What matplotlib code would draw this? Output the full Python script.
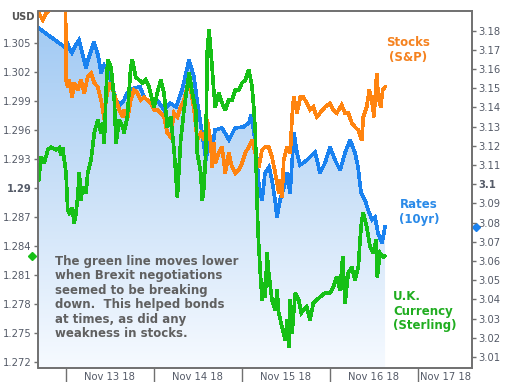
import numpy as np
import matplotlib
matplotlib.use("Agg")
import matplotlib.pyplot as plt
from matplotlib.colors import LinearSegmentedColormap
from matplotlib.path import Path
import matplotlib.transforms as mtransforms

# ---------------- data (x = hours since Nov 12 2018 00:00) ----------------
rates_hours = [16.64, 24.08, 24.35, 24.9, 25.72, 26.8, 27.63, 28.45, 29.54, 30.08, 31.17, 31.72,
               32.81, 33.63, 34.45, 35.54, 36.63, 37.72, 38.81, 39.9, 40.72, 42.63, 44.26, 45.35,
               46.99, 48.9, 50.81, 52.45, 54.08, 55.72, 57.63, 58.99, 59.81, 61.17, 62.26, 63.08,
               63.9, 64.72, 66.63, 68.54, 70.17, 72.36, 73.99, 74.54, 75.36, 76.17, 76.72, 77.54,
               78.35, 79.45, 80.26, 81.08, 81.63, 82.45, 83.54, 84.36, 85.17, 86.26, 87.08, 87.9,
               89.81, 91.99, 93.36, 94.72, 96.08, 97.45, 98.81, 100.17, 101.54, 102.9, 103.72,
               104.54, 105.63, 106.45, 107.54, 108.35, 109.17, 110.26, 111.08]
rates_values = [3.1813, 3.1710, 3.1741, 3.1710, 3.1684, 3.1726, 3.1752, 3.1689, 3.1606, 3.1647, 3.1710, 3.1741,
                3.1673, 3.1580, 3.1621, 3.1595, 3.1517, 3.1439, 3.1413, 3.1439, 3.1475, 3.1501, 3.1507, 3.1455,
                3.1423, 3.1439, 3.1387, 3.1423, 3.1403, 3.1491, 3.1647, 3.1559, 3.1439, 3.1267, 3.1126, 3.1231,
                3.1178, 3.1283, 3.1293, 3.1231, 3.1293, 3.1298, 3.1319, 3.1361, 3.1267, 3.1126, 3.0986, 3.0918,
                3.1059, 3.1090, 3.1022, 3.0918, 3.0829, 3.0918, 3.0986, 3.1059, 3.0954, 3.1267, 3.1163, 3.1100,
                3.1126, 3.1168, 3.1059, 3.1111, 3.1194, 3.1126, 3.1074, 3.1163, 3.1231, 3.1163, 3.1090,
                3.0954, 3.0918, 3.0866, 3.0814, 3.0829, 3.0746, 3.0694, 3.0777]

gbp_hours = [16.64, 17.26, 18.16, 19.09, 19.99, 21.35, 22.25, 22.72, 23.18, 23.62, 24.08, 24.55, 24.98,
             25.72, 26.35, 26.81, 27.27, 27.71, 28.17, 28.64, 29.54, 30.0, 30.9, 31.8, 32.73, 33.63,
             34.09, 34.53, 34.99, 35.45, 36.35, 37.25, 37.72, 38.62, 39.55, 39.9, 40.8, 41.73, 42.16,
             43.09, 43.99, 44.89, 45.82, 46.72, 48.08, 48.98, 49.91, 50.81, 51.71, 52.64, 53.54, 54.0,
             54.44, 55.36, 56.26, 57.63, 58.53, 59.45, 59.89, 60.82, 61.25, 61.72, 62.18, 62.62, 63.08,
             63.71, 64.36, 64.8, 65.73, 66.63, 67.53, 68.45, 69.35, 70.25, 71.18, 72.08, 72.98, 73.91,
             74.34, 74.81, 75.27, 75.71, 76.17, 76.45, 77.07, 77.54, 78.0, 78.44, 78.9, 79.36, 80.26,
             81.16, 81.63, 82.09, 82.99, 83.89, 84.36, 84.82, 85.25, 85.72, 86.62, 87.54, 88.25, 88.8,
             89.73, 90.63, 91.53, 92.45, 93.35, 94.72, 96.08, 96.98, 97.91, 98.81, 99.54, 100.17,
             101.07, 102.0, 102.9, 103.8, 104.26, 104.73, 105.16, 106.09, 106.99, 107.89, 108.63,
             108.98, 109.72, 110.62, 111.08]
gbp_values = [1.29082, 1.29320, 1.29258, 1.29392, 1.29423, 1.29392, 1.29413, 1.29340, 1.29413, 1.29289, 1.29154, 1.28772, 1.28741,
              1.28792, 1.28637, 1.28741, 1.28906, 1.29154, 1.28875, 1.29010, 1.28947, 1.29154, 1.29289, 1.29568, 1.29702, 1.29568,
              1.29671, 1.29464, 1.29981, 1.30323, 1.30250, 1.29909, 1.29464, 1.29702, 1.29630, 1.29568, 1.29733, 1.30250, 1.30323,
              1.30147, 1.30116, 1.30085, 1.30116, 1.30044, 1.29837, 1.29981, 1.30116, 1.29981, 1.29630, 1.29733, 1.29392, 1.29154,
              1.28906, 1.29495, 1.29806, 1.30188, 1.29981, 1.29806, 1.29361, 1.29154, 1.28875, 1.29010, 1.29361, 1.30426, 1.30633,
              1.30354, 1.30012, 1.29837, 1.29981, 1.29878, 1.29806, 1.29909, 1.29909, 1.30012, 1.30012, 1.30085, 1.30116, 1.30219,
              1.30147, 1.30044, 1.29837, 1.29568, 1.28875, 1.28534, 1.28120, 1.27841, 1.28017, 1.27872, 1.28327, 1.28120, 1.27841,
              1.27738, 1.27944, 1.27707, 1.27562, 1.27427, 1.27634, 1.27355, 1.27841, 1.27500, 1.27913, 1.27841, 1.27707, 1.27738,
              1.27769, 1.27634, 1.27810, 1.27841, 1.27872, 1.27913, 1.27913, 1.27976, 1.28079, 1.27944, 1.28286, 1.27810,
              1.28120, 1.28182, 1.28048, 1.28182, 1.28461, 1.28668, 1.28741, 1.28596, 1.28389, 1.28327, 1.28461,
              1.28079, 1.28327, 1.28286, 1.28296]

spx_hours = [16.64, 17.73, 18.63, 19.53, 20.26, 22.45, 23.95, 24.08, 24.55, 24.98, 25.72, 26.35, 27.27,
             28.17, 29.07, 30.0, 30.9, 31.8, 32.73, 33.63, 34.09, 34.53, 34.99, 35.89, 36.82, 37.72,
             38.62, 39.55, 39.9, 40.8, 41.73, 42.63, 43.53, 44.45, 45.35, 46.25, 47.18, 48.08, 48.98,
             49.91, 50.81, 51.71, 52.64, 53.54, 54.44, 55.36, 56.26, 57.16, 58.09, 58.99, 59.89, 60.82,
             61.72, 62.62, 63.54, 63.98, 64.45, 64.8, 65.73, 66.63, 67.53, 68.45, 69.35, 70.25, 71.18,
             72.08, 72.98, 73.91, 74.81, 75.71, 76.64, 77.54, 78.44, 79.36, 80.26, 81.16, 82.09, 82.52,
             82.99, 83.45, 84.36, 85.25, 85.72, 86.18, 87.08, 87.98, 88.8, 89.73, 90.63, 91.53, 92.45,
             93.35, 94.72, 96.08, 96.98, 97.91, 99.27, 100.17, 101.07, 102.0, 102.9, 103.8, 104.73,
             105.16, 106.09, 106.8, 107.45, 108.08, 108.82, 109.25, 109.91, 110.45, 111.08]
spx_values = [2744.3, 2742.0, 2744.3, 2745.3, 2748.7, 2748.7, 2750.3, 2722.0, 2719.7, 2722.0, 2716.3, 2721.0, 2718.7,
              2722.0, 2717.7, 2723.0, 2724.3, 2721.0, 2719.7, 2715.3, 2712.0, 2708.7, 2715.3, 2721.0, 2718.7, 2715.3,
              2712.0, 2709.7, 2712.0, 2708.7, 2715.3, 2718.7, 2717.7, 2715.3, 2716.3, 2715.3, 2714.3, 2712.0, 2712.0,
              2711.0, 2709.7, 2704.3, 2703.0, 2711.0, 2709.7, 2713.0, 2715.3, 2719.7, 2718.7, 2712.0, 2702.0, 2704.3,
              2702.0, 2708.7, 2701.0, 2693.0, 2701.0, 2694.3, 2697.7, 2699.7, 2691.0, 2697.7, 2693.0, 2691.0, 2692.0,
              2694.3, 2697.7, 2699.7, 2702.0, 2697.7, 2693.0, 2698.7, 2699.7, 2699.7, 2696.3, 2691.0, 2684.3, 2688.7,
              2683.0, 2695.3, 2699.7, 2697.7, 2709.7, 2716.3, 2711.0, 2716.3, 2716.3, 2714.3, 2712.0, 2713.0, 2709.7,
              2711.0, 2713.0, 2714.3, 2712.0, 2711.0, 2713.7, 2711.0, 2711.0, 2707.7, 2706.3, 2705.3, 2702.0,
              2709.7, 2713.0, 2718.7, 2715.3, 2709.7, 2724.3, 2716.3, 2713.0, 2718.7, 2719.7]

day_boundaries = [24, 48, 72, 96, 120]
day_label_pos = [36, 60, 84, 108, 120.5]
day_labels = ["Nov 13 18", "Nov 14 18", "Nov 15 18", "Nov 16 18", "Nov 17 18"]

usd_ticks = [1.272, 1.275, 1.278, 1.281, 1.284, 1.287, 1.29, 1.293, 1.296, 1.299, 1.302, 1.305]
usd_labels = ["1.272", "1.275", "1.278", "1.281", "1.284", "1.287", "1.29", "1.293", "1.296", "1.299", "1.302", "1.305"]
rate_ticks = [3.01, 3.02, 3.03, 3.04, 3.05, 3.06, 3.07, 3.08, 3.09, 3.1,
              3.11, 3.12, 3.13, 3.14, 3.15, 3.16, 3.17, 3.18]
rate_labels = ["3.01", "3.02", "3.03", "3.04", "3.05", "3.06", "3.07", "3.08", "3.09", "3.1",
               "3.11", "3.12", "3.13", "3.14", "3.15", "3.16", "3.17", "3.18"]

BLUE = "#1a82f0"
GREEN = "#16c016"
ORANGE = "#ff8410"
TICKC = "#555b68"
SPINEC = "#707070"

# ---------------- figure ----------------
W, H = 510, 382
fig = plt.figure(figsize=(W / 100, H / 100), dpi=100)
ax = fig.add_axes([38.5 / W, 14 / H, (472 - 38.5) / W, (368 - 11) / H])
ax2 = ax.twinx()
ax3 = ax.twinx()
ax3.set_visible(False)

# gradient fill under the rates line
cmap = LinearSegmentedColormap.from_list("fillgrad", ["#f6faff", "#cbe1f8", "#9ec8f3"])
grad = np.linspace(1, 0, 256).reshape(-1, 1)
im = ax.imshow(grad, cmap=cmap, extent=[0, 1, 0, 1], transform=ax.transAxes,
               aspect="auto", origin="upper", zorder=0, interpolation="bilinear")
verts = np.column_stack([[rates_hours[0]] + rates_hours + [rates_hours[-1], rates_hours[0]],
                         [2.9] + rates_values + [2.9, 2.9]])
im.set_clip_path(Path(verts), ax2.transData)

ax.plot(rates_hours, rates_values, color=BLUE, lw=1.9, transform=ax2.transData, zorder=3,
        solid_joinstyle="miter", antialiased=False)
ax.plot(spx_hours, spx_values, color=ORANGE, lw=1.9, transform=ax3.transData, zorder=4,
        solid_joinstyle="miter", antialiased=False)
ax.plot(gbp_hours, gbp_values, color=GREEN, lw=1.9, zorder=5, solid_joinstyle="miter",
        antialiased=False)

# end-value markers on the axes
ax.plot([-0.0143], [gbp_values[-1]], marker="D", ms=4.5, color=GREEN, clip_on=False,
        transform=mtransforms.blended_transform_factory(ax.transAxes, ax.transData), zorder=6)
ax.plot([1.0092], [rates_values[-1]], marker="D", ms=4.5, color=BLUE, clip_on=False,
        transform=mtransforms.blended_transform_factory(ax.transAxes, ax2.transData), zorder=6)

# limits
ax.set_xlim(16.58, 134.8)
ax.set_ylim(1.27138, 1.30829)
ax2.set_ylim(3.00427, 3.19027)
ax3.set_ylim(2626, 2745)

# ticks
ax.set_yticks(usd_ticks, labels=usd_labels)
ax2.set_yticks(rate_ticks, labels=rate_labels)
ax.tick_params(axis="y", length=3, width=1, pad=2, labelsize=7.2, color=SPINEC, labelcolor=TICKC)
ax2.tick_params(axis="y", length=3, width=1, pad=1.5, labelsize=7.2, color=SPINEC, labelcolor=TICKC)
for lab in ax.get_yticklabels():
    if lab.get_text() == "1.29":
        lab.set_fontweight("bold")
for lab in ax2.get_yticklabels():
    if lab.get_text() == "3.1":
        lab.set_fontweight("bold")

ax.set_xticks(day_boundaries, labels=[""] * len(day_boundaries))
ax.set_xticks(day_label_pos, labels=day_labels, minor=True)
ax.tick_params(axis="x", which="major", length=10, width=1, color=SPINEC)
ax.tick_params(axis="x", which="minor", length=0, pad=3, labelsize=7.2, labelcolor=TICKC)
ax.get_xticklabels(minor=True)[-1].set_horizontalalignment("left")

for a in (ax, ax2):
    for s in a.spines.values():
        s.set_color(SPINEC)
        s.set_linewidth(1.2)

# texts
def px(x, y):
    return x / W, 1 - y / H

fig.text(*px(23, 17), "USD", ha="center", va="center", fontsize=7.2, fontweight="bold", color="#555555")
fig.text(*px(408, 50), "Stocks\n(S&P)", ha="center", va="center", fontsize=8.5, fontweight="bold",
         color="#f5821f", linespacing=1.1, multialignment="center")
fig.text(*px(419, 212), "Rates\n(10yr)", ha="center", va="center", fontsize=8.5, fontweight="bold",
         color="#2a8ae8", linespacing=1.1, multialignment="center")
fig.text(*px(393, 311), "U.K.\nCurrency\n(Sterling)", ha="left", va="center", fontsize=8.5,
         fontweight="bold", color="#20ad20", linespacing=1.15)
fig.text(*px(55, 297.5),
         "The green line moves lower\nwhen Brexit negotiations\nseemed to be breaking\n"
         "down.  This helped bonds\nat times, as did any\nweakness in stocks.",
         ha="left", va="center", fontsize=8.5, fontweight="bold", color="#606060", linespacing=1.15)

fig.savefig("out.png", dpi=100)
